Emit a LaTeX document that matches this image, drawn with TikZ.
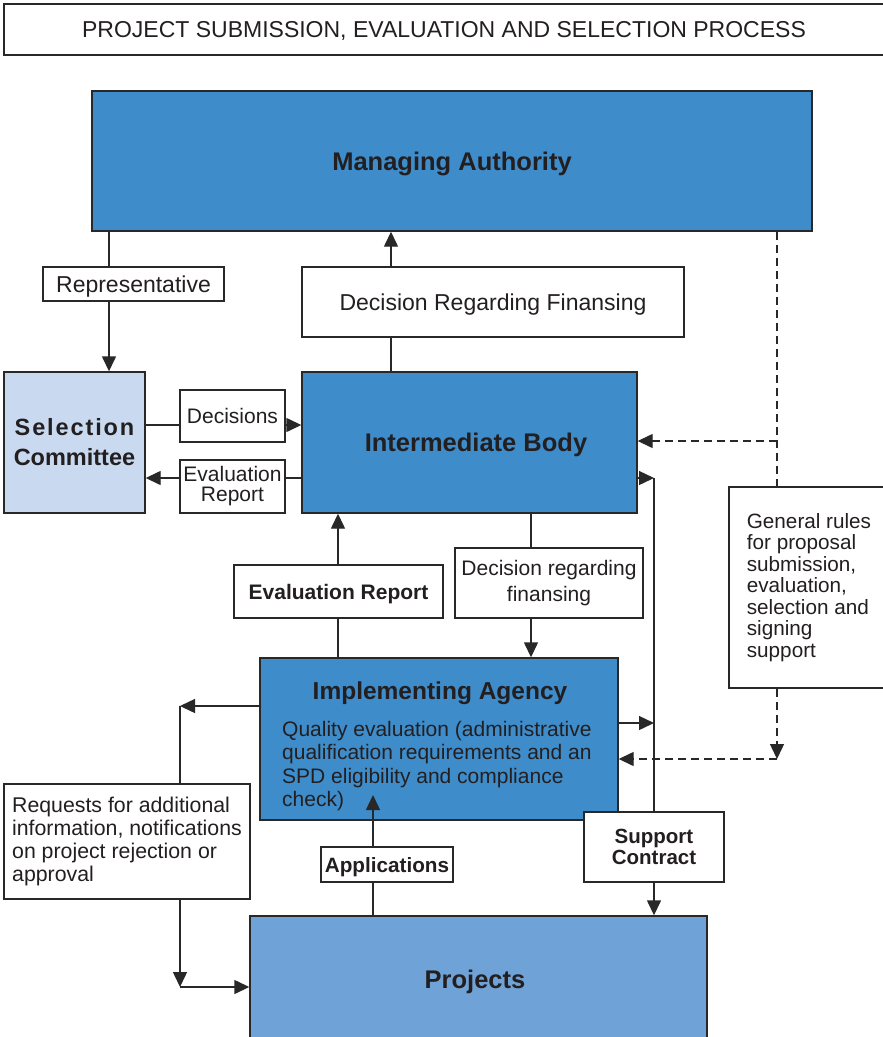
\documentclass[tikz,border=0pt]{standalone}
\usepackage{fontspec}
\setmainfont{Liberation Sans}
\usetikzlibrary{arrows.meta,backgrounds}
\definecolor{mid}{RGB}{62,140,202}
\definecolor{projc}{RGB}{111,162,214}
\definecolor{sel}{RGB}{201,218,240}
\definecolor{lc}{RGB}{40,40,40}
\definecolor{tc}{RGB}{35,31,32}
\begin{document}
\begin{tikzpicture}[x=1pt,y=-1pt,
  box/.style={draw=lc, line width=1.4pt, fill=white, inner sep=0pt, text=tc},
  bl/.style={box, fill=mid},
  lab/.style={font=\fontsize{21}{24}\selectfont},
  blab/.style={font=\fontsize{21}{24}\selectfont\bfseries},
  big/.style={font=\fontsize{25.5}{30}\selectfont\bfseries, text=tc},
  ln/.style={draw=lc, line width=1.4pt},
  arr/.style={ln, -{Triangle[length=15pt,width=14pt]}},
  dsh/.style={dash pattern=on 8pt off 5pt},
]
\useasboundingbox (0,0) rectangle (883,1037);

% ---- nodes
\node[box, minimum width=880pt, minimum height=51pt, text depth=0pt, font=\fontsize{23}{27}\selectfont] (title) at (444,29.5) {PROJECT SUBMISSION, EVALUATION AND SELECTION PROCESS};
\node[bl, minimum width=720pt, minimum height=140pt, big, text depth=0pt] (ma) at (452,161) {Managing Authority};
\node[box, minimum width=181pt, minimum height=34pt, text depth=0pt, font=\fontsize{23}{27}\selectfont] (rep) at (133.5,284) {Representative};
\node[box, minimum width=382pt, minimum height=70pt, text depth=0pt, font=\fontsize{23}{27}\selectfont] (drf) at (493,302) {Decision Regarding Finansing};
\node[box, fill=sel, minimum width=141pt, minimum height=141pt, align=center, font=\fontsize{23.5}{30}\selectfont\bfseries] (sc) at (74.5,442.5) {{\addfontfeatures{LetterSpace=8}Selection}\\Committee};
\node[box, minimum width=105pt, minimum height=52pt, text depth=0pt, lab] (dec) at (232.5,416) {Decisions};
\node[box, minimum width=105pt, minimum height=53pt, align=center, font=\fontsize{21}{20}\selectfont] (er1) at (232.5,486.5) {Evaluation\\Report};
\node[bl, minimum width=335pt, minimum height=141pt, big, text depth=0pt] (ib) at (469.5,442.5) {\hspace*{13pt}Intermediate Body};
\node[box, minimum width=209pt, minimum height=53pt, text depth=0pt, blab] (er2) at (338.5,591.5) {Evaluation Report};
\node[box, minimum width=188pt, minimum height=70pt, align=center, font=\fontsize{21}{25.5}\selectfont] (drf2) at (549,583) {Decision regarding\\finansing};
\node[bl, minimum width=358pt, minimum height=162pt] (ia) at (439,739) {};
\node[big, anchor=base, inner sep=0pt, font=\fontsize{24.5}{30}\selectfont\bfseries] (iat) at (440,699) {Implementing Agency};
\node[anchor=west, align=left, text=tc, inner sep=0pt, font=\fontsize{21}{23.5}\selectfont] (iab) at (282,766) {Quality evaluation (administrative\\qualification requirements and an\\SPD eligibility and compliance\\check)};
\node[box, minimum width=160pt, minimum height=201pt, align=left, font=\fontsize{20.7}{21.5}\selectfont] (gr) at (809,587.5) {General rules\\for proposal\\submission,\\evaluation,\\selection and\\signing\\support};
\node[box, minimum width=246pt, minimum height=115pt, align=left, font=\fontsize{21.3}{23.3}\selectfont] (req) at (127,841.5) {Requests for additional\\information, notifications\\on project rejection or\\approval};
\node[box, minimum width=132pt, minimum height=35pt, text depth=0pt, font=\fontsize{20.7}{24}\selectfont\bfseries] (app) at (387,864.5) {Applications};
\node[box, minimum width=140pt, minimum height=70pt, align=center, font=\fontsize{20.5}{21}\selectfont\bfseries] (sup) at (654,847) {Support\\Contract};
\node[box, fill=projc, minimum width=457pt, minimum height=129pt] (proj) at (478.5,980.5) {};
\node[big, anchor=base, inner sep=0pt] (projt) at (475,988) {Projects};

% ---- helper coordinates
\coordinate (xRep) at (109,0);
\coordinate (xDrf) at (391,0);
\coordinate (xEr) at (338,0);
\coordinate (xDrf2) at (531,0);
\coordinate (xSup) at (654,0);
\coordinate (xGen) at (777,0);
\coordinate (xReq) at (180,0);
\coordinate (xApp) at (373,0);
\coordinate (yDec) at (0,425);
\coordinate (yEv) at (0,478);
\coordinate (yDash1) at (0,441);
\coordinate (yIa) at (0,723);
\coordinate (yDash2) at (0,759);
\coordinate (yReq) at (0,706);
\coordinate (yProj) at (0,987);
\coordinate (appTip) at (373,795);

% ---- connectors
\begin{scope}[on background layer]
\fill[white] (0,0) rectangle (883,1037);
\draw[arr] (ma.south -| xRep) -- (sc.north -| xRep);
\draw[arr] (ib.north -| xDrf) -- (ma.south -| xDrf);
\draw[arr] (sc.east |- yDec) -- (ib.west |- yDec);
\draw[arr] (ib.west |- yEv) -- (sc.east |- yEv);
\draw[arr] (ia.north -| xEr) -- (ib.south -| xEr);
\draw[arr] (ib.south -| xDrf2) -- (ia.north -| xDrf2);
\draw[arr] (ib.east |- yEv) -- (xSup |- yEv);
\draw[arr] (xSup |- yEv) -- (proj.north -| xSup);
\draw[arr] (ia.east |- yIa) -- (xSup |- yIa);
\draw[ln,dsh] (ma.south -| xGen) -- (gr.north -| xGen);
\draw[arr,dsh] (xGen |- yDash1) -- (ib.east |- yDash1);
\draw[arr,dsh] (gr.south -| xGen) -- (xGen |- yDash2);
\draw[arr,dsh] (xGen |- yDash2) -- (ia.east |- yDash2);
\draw[arr] (ia.west |- yReq) -- (xReq |- yReq);
\draw[ln] (xReq |- yReq) -- (req.north -| xReq);
\draw[arr] (req.south -| xReq) -- (xReq |- yProj);
\draw[arr] (xReq |- yProj) -- (proj.west |- yProj);
\draw[ln] (proj.north -| xApp) -- (app.south -| xApp);
\end{scope}
\draw[arr] (app.north -| xApp) -- (appTip);
\end{tikzpicture}
\end{document}
